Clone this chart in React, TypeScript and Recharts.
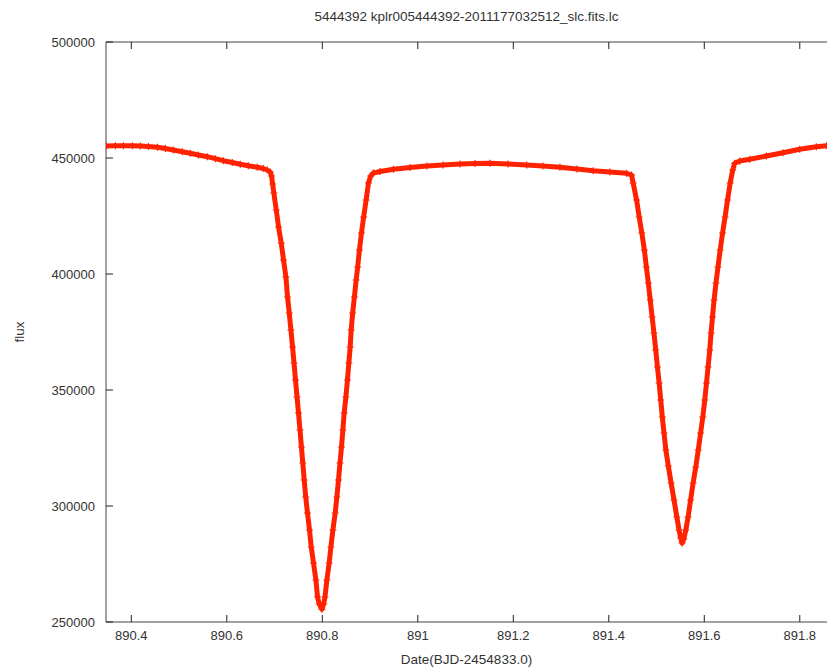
import { LineChart, Line, XAxis, YAxis } from "recharts";

// light curve (BJD-2454833.0, flux)
const dates = [
  // out of eclipse, left
  890.3479, 890.3667, 890.3835, 890.4023, 890.419, 890.4358, 890.4546, 890.4713,
  890.4881, 890.5069, 890.5236, 890.5404, 890.5592, 890.5759, 890.5927, 890.6115,
  890.6282, 890.645, 890.6638, 890.6764, 890.6847, 890.691, 890.6937,
  // primary eclipse, ingress
  890.696, 890.6985, 890.7036, 890.7084, 890.714, 890.7188, 890.7238, 890.7272,
  890.7308, 890.7343, 890.7377, 890.7408, 890.7439, 890.7471, 890.7502, 890.7533,
  890.7563, 890.7592, 890.7621, 890.7653, 890.769, 890.7732, 890.7768, 890.7816,
  890.7866, 890.79, 890.7935, 890.7992,
  // primary eclipse, egress
  890.8029, 890.8056, 890.8096, 890.8144, 890.818, 890.8222, 890.827, 890.8305,
  890.8339, 890.837, 890.8402, 890.8431, 890.8458, 890.8494, 890.8527, 890.8556,
  890.8584, 890.8605, 890.8636, 890.8672, 890.8709, 890.8741, 890.8778, 890.882,
  890.8866, 890.8918, 890.8967, 890.9013, 890.9071,
  // out of eclipse, middle
  890.9211, 890.949, 890.9839, 891.0188, 891.0529, 891.0885, 891.1199, 891.1513,
  891.1889, 891.228, 891.2621, 891.2977, 891.3333, 891.3674, 891.4023, 891.4372,
  891.4477,
  // secondary eclipse, ingress
  891.451, 891.4582, 891.4636, 891.4692, 891.4745, 891.4787, 891.4828, 891.4868,
  891.4908, 891.4946, 891.4983, 891.5019, 891.5054, 891.5088, 891.5121, 891.5157,
  891.5195, 891.5247, 891.5305, 891.5366, 891.5425, 891.5471, 891.5506, 891.5536,
  // secondary eclipse, egress
  891.5571, 891.5613, 891.5661, 891.5713, 891.5766, 891.5822, 891.5874, 891.5923,
  891.5969, 891.601, 891.6046, 891.6079, 891.6115, 891.6142, 891.6172, 891.6205,
  891.6245, 891.6287, 891.6333, 891.6383, 891.6435, 891.6487, 891.6542, 891.6596,
  891.6638,
  // out of eclipse, right
  891.6743, 891.6952, 891.7301, 891.7649, 891.7998, 891.8347, 891.8563,
];

const fluxes = [
  455173, 455259, 455302, 455259, 455173, 454957, 454612, 454095,
  453449, 452716, 452026, 451294, 450561, 449699, 448837, 448061,
  447285, 446638, 445992, 445475, 444828, 443966, 442242,
  438794, 434914, 427587, 420259, 413363, 406035, 398708, 390087,
  383191, 375863, 368536, 361639, 354312, 346984, 340088, 332760,
  325433, 318536, 311209, 303881, 296985, 289657, 282330, 275433,
  268106, 260778, 257761, 255500,
  257761, 260778, 268106, 275433, 282330, 289657, 296985, 303881,
  311209, 318536, 325433, 332760, 340088, 346984, 354312, 361639,
  368536, 375863, 383191, 390087, 397415, 403018, 410346, 417673,
  424570, 431897, 439225, 442242, 443535,
  444182, 445128, 445906, 446552, 446983, 447414, 447630, 447716,
  447414, 446983, 446552, 445992, 445259, 444526, 443966, 443406,
  442673,
  439225, 431897, 424570, 417673, 410346, 403018, 396122, 388794,
  381467, 374570, 367243, 359915, 353019, 345691, 338364, 331467,
  324140, 317243, 309916, 302588, 295261, 289657, 286209, 284054,
  285778, 289657, 295261, 302588, 309916, 316812, 324140, 331467,
  338364, 345691, 353019, 359915, 367243, 374570, 381467, 388794,
  396122, 403018, 410346, 417673, 424570, 431897, 439225, 444828,
  447716,
  448707, 449440, 450863, 452285, 453750, 454871, 455302,
];

const xTicks = [890.4, 890.6, 890.8, 891, 891.2, 891.4, 891.6, 891.8];
const yTicks = [250000, 300000, 350000, 400000, 450000, 500000];

const title = "5444392 kplr005444392-2011177032512_slc.fits.lc";
const xTitle = "Date(BJD-2454833.0)";
const yTitle = "flux";

const rows = dates.map((d, i) => ({ date: d, flux: fluxes[i] }));

const FONT = '"Liberation Sans", Arial, sans-serif';
const RED = "#ff2200";
const TEXT = "#333";
const TICK = "#222";

function PlusDot(props: any) {
  const { cx, cy, index } = props;
  if (cx == null || cy == null) return <g key={index} />;
  return (
    <path
      key={index}
      d={`M${cx - 3.5},${cy}h7M${cx},${cy - 3.5}v7`}
      stroke={RED}
      strokeWidth={1.2}
    />
  );
}

function BottomTick({ x, y, payload }: any) {
  return (
    <g>
      <line x1={x} y1={y} x2={x} y2={y - 7} stroke={TICK} />
      <text x={x} y={y + 18} textAnchor="middle" fontSize={13} fill={TEXT} fontFamily={FONT}>
        {payload.value}
      </text>
    </g>
  );
}

function TopTick({ x, y }: any) {
  return <line x1={x} y1={y} x2={x} y2={y + 7} stroke={TICK} />;
}

function LeftTick({ x, y, payload }: any) {
  return (
    <g>
      <line x1={x} y1={y} x2={x + 7} y2={y} stroke={TICK} />
      <text x={x - 11} y={y + 4.5} textAnchor="end" fontSize={13} fill={TEXT} fontFamily={FONT}>
        {payload.value}
      </text>
    </g>
  );
}

export default function App() {
  return (
    <div
      style={{
        position: "absolute",
        left: 0,
        top: 0,
        width: 827,
        height: 667,
        overflow: "hidden",
        background: "#fff",
        fontFamily: FONT,
        color: TEXT,
      }}
    >
      <div
        style={{
          position: "absolute",
          left: 106,
          width: 721,
          top: 9,
          lineHeight: "16px",
          fontSize: 13.5,
          textAlign: "center",
        }}
      >
        {title}
      </div>
      <div
        style={{
          position: "absolute",
          left: 106,
          width: 721,
          top: 652,
          lineHeight: "16px",
          fontSize: 13.5,
          textAlign: "center",
        }}
      >
        {xTitle}
      </div>
      <div
        style={{
          position: "absolute",
          left: 20,
          top: 332,
          fontSize: 13.5,
          lineHeight: "16px",
          transform: "translate(-50%, -50%) rotate(-90deg)",
        }}
      >
        {yTitle}
      </div>
      <LineChart
        width={827}
        height={667}
        data={rows}
        margin={{ top: 41, right: 0, bottom: 0, left: 0 }}
        style={{ position: "absolute", left: 0, top: 0 }}
      >
        <XAxis
          dataKey="date"
          type="number"
          domain={[890.347, 891.857]}
          allowDataOverflow
          ticks={xTicks}
          interval={0}
          height={45}
          tickSize={0}
          tickMargin={0}
          tickLine={false}
          tick={<BottomTick />}
          stroke="#444"
        />
        <XAxis
          xAxisId="top"
          orientation="top"
          dataKey="date"
          type="number"
          domain={[890.347, 891.857]}
          allowDataOverflow
          ticks={xTicks}
          interval={0}
          height={1}
          tickSize={0}
          tickMargin={0}
          tickLine={false}
          tick={<TopTick />}
          stroke="#444"
        />
        <YAxis
          type="number"
          domain={[250000, 500000]}
          allowDataOverflow
          ticks={yTicks}
          interval={0}
          width={106}
          tickSize={0}
          tickMargin={0}
          tickLine={false}
          tick={<LeftTick />}
          stroke="#444"
        />
        <Line
          dataKey="flux"
          type="linear"
          stroke={RED}
          strokeWidth={5}
          strokeLinejoin="round"
          dot={PlusDot}
          activeDot={false}
          isAnimationActive={false}
        />
      </LineChart>
    </div>
  );
}
